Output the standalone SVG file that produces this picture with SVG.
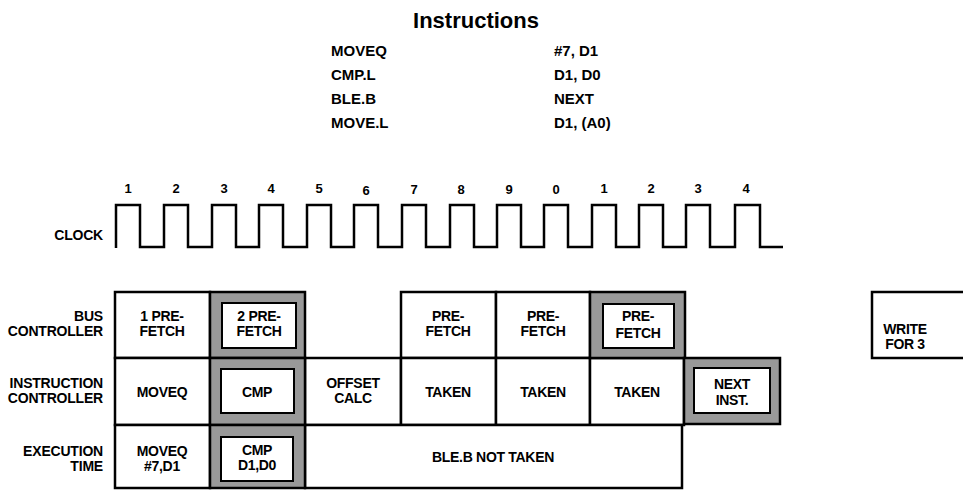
<svg xmlns="http://www.w3.org/2000/svg" width="963" height="491" viewBox="0 0 963 491">
<style>
text{font-family:"Liberation Sans",Arial,sans-serif;font-weight:bold;fill:#000}
.t{font-size:14px;text-anchor:middle;letter-spacing:-0.3px}
.lbl{font-size:14px;text-anchor:end;letter-spacing:-0.2px}
.ins{font-size:15px}
.num{font-size:13px;text-anchor:middle}
.cell{fill:#fff;stroke:#000;stroke-width:2.5}
.sh{fill:#999;stroke:#000;stroke-width:2.5}
.in{fill:#fff;stroke:#000;stroke-width:2}
.wave{fill:none;stroke:#000;stroke-width:2.5;stroke-linejoin:miter}
</style>
<rect width="963" height="491" fill="#fff"/>
<g id="instructions">
<text x="476" y="28" style="font-size:22px" text-anchor="middle">Instructions</text>
<text class="ins" x="331" y="56">MOVEQ</text><text class="ins" x="554" y="56">#7, D1</text>
<text class="ins" x="331" y="80">CMP.L</text><text class="ins" x="554" y="80">D1, D0</text>
<text class="ins" x="331" y="104">BLE.B</text><text class="ins" x="554" y="104">NEXT</text>
<text class="ins" x="331" y="128">MOVE.L</text><text class="ins" x="554" y="128">D1, (A0)</text>
</g>
<g id="clock">
<text class="lbl" x="103" y="240">CLOCK</text>
<path class="wave" d="M116,248 V205 H140 V247 H164 V205 H188 V247 H212 V205 H236 V247 H259 V205 H283 V247 H307 V205 H331 V247 H354 V205 H378 V247 H402 V205 H426 V247 H450 V205 H474 V247 H497 V205 H521 V247 H544 V205 H568 V247 H592 V205 H616 V247 H639 V205 H663 V247 H686 V205 H710 V247 H735 V205 H760 V247 H783"/>
<g class="num">
<text x="128" y="193">1</text><text x="176" y="193">2</text><text x="224" y="193">3</text><text x="271" y="193">4</text><text x="319" y="193">5</text><text x="366" y="195">6</text><text x="414" y="194">7</text><text x="461" y="194">8</text><text x="509" y="194">9</text><text x="556" y="194">0</text><text x="604" y="193">1</text><text x="651" y="193">2</text><text x="698" y="193">3</text><text x="746" y="193">4</text>
</g>
</g>
<g id="row-labels">
<text class="lbl" x="103" y="321">BUS</text><text class="lbl" x="103" y="336">CONTROLLER</text>
<text class="lbl" x="103" y="388">INSTRUCTION</text><text class="lbl" x="103" y="403">CONTROLLER</text>
<text class="lbl" x="103" y="456">EXECUTION</text><text class="lbl" x="103" y="471">TIME</text>
</g>
<g id="bus-1"><rect class="cell" x="115" y="292" width="95" height="66"/><text class="t" x="162" y="321">1 PRE-</text><text class="t" x="162" y="336">FETCH</text></g>
<g id="bus-4"><rect class="cell" x="401" y="292" width="95" height="66"/><text class="t" x="448" y="321">PRE-</text><text class="t" x="448" y="336">FETCH</text></g>
<g id="bus-5"><rect class="cell" x="496" y="292" width="94" height="66"/><text class="t" x="543" y="321">PRE-</text><text class="t" x="543" y="336">FETCH</text></g>
<g id="ins-1"><rect class="cell" x="115" y="358" width="95" height="67"/><text class="t" x="162" y="397">MOVEQ</text></g>
<g id="ins-3"><rect class="cell" x="305" y="358" width="96" height="67"/><text class="t" x="353" y="388">OFFSET</text><text class="t" x="353" y="403">CALC</text></g>
<g id="ins-4"><rect class="cell" x="401" y="358" width="95" height="67"/><text class="t" x="448" y="397">TAKEN</text></g>
<g id="ins-5"><rect class="cell" x="496" y="358" width="94" height="67"/><text class="t" x="543" y="397">TAKEN</text></g>
<g id="ins-6"><rect class="cell" x="590" y="358" width="94" height="67"/><text class="t" x="637" y="397">TAKEN</text></g>
<g id="exe-1"><rect class="cell" x="115" y="425" width="95" height="63"/><text class="t" x="162" y="456">MOVEQ</text><text class="t" x="162" y="471">#7,D1</text></g>
<g id="exe-3"><rect class="cell" x="305" y="425" width="377" height="63"/><text class="t" x="493" y="462">BLE.B NOT TAKEN</text></g>
<g id="bus-2"><rect class="sh" x="210" y="292" width="95" height="66"/><rect class="in" x="222" y="303" width="74" height="45"/><text class="t" x="259" y="321">2 PRE-</text><text class="t" x="259" y="336">FETCH</text></g>
<g id="bus-6"><rect class="sh" x="590" y="292" width="95" height="66"/><rect class="in" x="603" y="304" width="71" height="44"/><text class="t" x="638" y="321">PRE-</text><text class="t" x="638" y="338">FETCH</text></g>
<g id="ins-2"><rect class="sh" x="210" y="358" width="95" height="67"/><rect class="in" x="221" y="369" width="73" height="44"/><text class="t" x="257" y="397">CMP</text></g>
<g id="ins-7"><rect class="sh" x="684" y="358" width="96" height="66"/><rect class="in" x="694" y="368" width="76" height="45"/><text class="t" x="732" y="389">NEXT</text><text class="t" x="732" y="405">INST.</text></g>
<g id="exe-2"><rect class="sh" x="210" y="425" width="95" height="63"/><rect class="in" x="221" y="437" width="72" height="44"/><text class="t" x="257" y="455">CMP</text><text class="t" x="257" y="470">D1,D0</text></g>
<g id="write"><rect class="cell" x="872" y="292" width="110" height="66"/><text class="t" x="905" y="334">WRITE</text><text class="t" x="905" y="349">FOR 3</text></g>
</svg>
